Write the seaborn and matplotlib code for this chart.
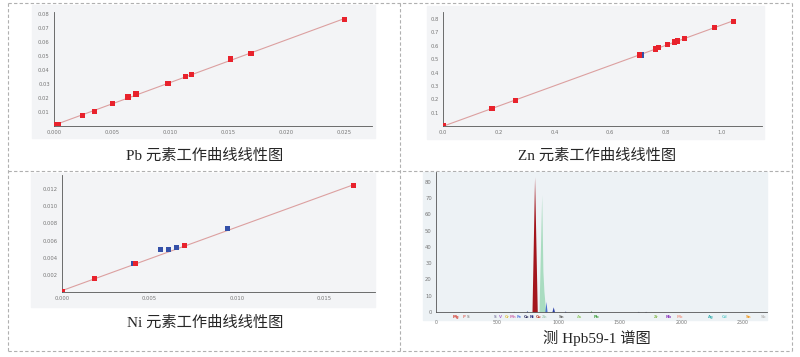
import numpy as np
import pandas as pd
import matplotlib
matplotlib.use("Agg")
import matplotlib.pyplot as plt
import seaborn as sns
from matplotlib.patches import Rectangle
from matplotlib.lines import Line2D
from matplotlib.ticker import MultipleLocator, FormatStrFormatter

sns.set_style("white")
plt.rcParams['font.family'] = ['DejaVu Sans', 'Noto Sans CJK SC']

# ---- datos ----
pb_x = [0.0002, 0.0004, 0.00248, 0.00346, 0.00504, 0.00637, 0.00706, 0.00983, 0.01135, 0.01182, 0.01519, 0.01697, 0.0250]
pb_y = [0.0012, 0.0012, 0.0076, 0.0105, 0.0160, 0.0208, 0.0229, 0.0303, 0.0356, 0.0368, 0.0480, 0.0518, 0.0761]

zn_x = [0.0, 0.176, 0.260, 0.706, 0.762, 0.774, 0.807, 0.832, 0.843, 0.868, 0.974, 1.043]
zn_y = [0.0, 0.130, 0.192, 0.531, 0.576, 0.586, 0.608, 0.628, 0.636, 0.656, 0.738, 0.783]
zn_blue_x = [0.712]
zn_blue_y = [0.531]

ni_red_x = [0.0, 0.00185, 0.00421, 0.00701, 0.01669]
ni_red_y = [0.0, 0.00158, 0.00335, 0.00546, 0.01246]
ni_blue_x = [0.00410, 0.00562, 0.00610, 0.00655, 0.00945]
ni_blue_y = [0.00335, 0.00492, 0.00492, 0.00515, 0.00738]

# picos del espectro: vertices (canal, altura) y color
peak_x = [[783, 804, 826],
          [840, 862, 872, 880, 895],
          [888, 897, 906],
          [945, 956, 967],
          [1045, 1054, 1063],
          [625, 633, 641],
          [733, 742, 751],
          [1255, 1264, 1273],
          [1640, 1650, 1660],
          [1700, 1710, 1720]]
peak_y = [[0, 83, 0],
          [0, 72, 25, 13, 0],
          [0, 6.5, 0],
          [0, 3.2, 0],
          [0, 0.6, 0],
          [0, 0.5, 0],
          [0, 0.8, 0],
          [0, 0.8, 0],
          [0, 0.4, 0],
          [0, 0.4, 0]]
peak_color = ['#a3151c', '#a9dcc0', '#4a6fd0', '#2a40a8', '#2a40a8',
              '#7080b0', '#3050a0', '#4c9a4c', '#404890', '#404890']

elem_names = ['Mg', 'P', 'S', 'S', 'V', 'Cr', 'Mn', 'Fe', 'Co', 'Ni', 'Cu', 'Zn', 'Sn',
              'As', 'Pb', 'Zr', 'Nb', 'Mo', 'Ag', 'Cd', 'Sn', 'Sb']
elem_pos = [160, 225, 262, 480, 530, 580, 630, 680, 735, 785, 835, 885, 1020,
            1170, 1310, 1795, 1895, 1990, 2245, 2350, 2550, 2670]
elem_color = ['#d23a2e', '#e07a70', '#999999', '#8888aa', '#b070d0', '#e0c040', '#d070b0', '#6080e0',
              '#303060', '#303080', '#c04030', '#b0d0c0', '#707070',
              '#a0d080', '#40a040', '#90c060', '#9040c0', '#f0a090', '#40b0b0', '#70d0d0',
              '#f0a030', '#c0c0c0']

titulos = ["Pb 元素工作曲线线性图", "Zn 元素工作曲线线性图", "Ni 元素工作曲线线性图", "测 Hpb59-1 谱图"]

W, H = 800, 357
fig = plt.figure(figsize=(8, 3.57), dpi=100)


def caja(x0, y0, x1, y1):
    return [x0 / W, 1 - y1 / H, (x1 - x0) / W, (y1 - y0) / H]


def fondo(x0, y0, x1, y1, color):
    fig.patches.append(Rectangle((x0 / W, 1 - y1 / H), (x1 - x0) / W, (y1 - y0) / H,
                                 transform=fig.transFigure, color=color, zorder=-5))


def linea(x0, y0, x1, y1):
    fig.lines.append(Line2D([x0 / W, x1 / W], [1 - y0 / H, 1 - y1 / H], transform=fig.transFigure,
                            color='#b0b0b0', lw=0.8, ls=(0, (3, 2)), zorder=-4))


# bordes de la tabla
linea(8, 3, 792, 3)
linea(8, 351, 792, 351)
linea(8, 3, 8, 351)
linea(792, 3, 792, 351)
linea(400, 3, 400, 351)
linea(8, 171, 792, 171)


def estilo(ax, fc):
    ax.set_facecolor(fc)
    for s in ['top', 'right']:
        ax.spines[s].set_visible(False)
    for s in ['left', 'bottom']:
        ax.spines[s].set_color('#555555')
        ax.spines[s].set_linewidth(0.6)
    ax.tick_params(which='major', labelsize=3.8, labelcolor='#777777', colors='#555555',
                   length=2, width=0.5, direction='inout', pad=2)
    ax.tick_params(which='minor', length=1.2, width=0.4, colors='#555555', direction='inout')
    ax.set_xlabel("")
    ax.set_ylabel("")


rojo = '#e8222c'
azul = '#3450a8'
rosa = '#dca0a0'
gris_fondo = '#f3f4f6'

# Pb
fondo(32, 5, 375, 138, gris_fondo)
ax1 = fig.add_axes(caja(54, 12, 372, 126))
df_pb = pd.DataFrame({'x': pb_x, 'y': pb_y})
sns.regplot(data=df_pb, x='x', y='y', scatter=False, ci=None, ax=ax1,
            line_kws={'color': rosa, 'lw': 0.8})
sns.scatterplot(data=df_pb, x='x', y='y', marker='s', s=14, color=rojo, edgecolor='none', ax=ax1, zorder=3)
ax1.set_xlim(0, 0.0274)
ax1.set_ylim(0, 0.0816)
ax1.set_xticks(np.arange(0, 0.0251, 0.005))
ax1.set_yticks(np.arange(0.01, 0.0801, 0.01))
ax1.xaxis.set_major_formatter(FormatStrFormatter('%.3f'))
ax1.yaxis.set_major_formatter(FormatStrFormatter('%.2f'))
ax1.xaxis.set_minor_locator(MultipleLocator(0.001))
ax1.yaxis.set_minor_locator(MultipleLocator(0.002))
estilo(ax1, gris_fondo)

# Zn
fondo(427, 6, 764, 139, gris_fondo)
ax2 = fig.add_axes(caja(443, 12, 762, 126))
df_zn = pd.DataFrame({'x': zn_x, 'y': zn_y})
sns.regplot(data=df_zn, x='x', y='y', scatter=False, ci=None, ax=ax2,
            line_kws={'color': rosa, 'lw': 0.8})
sns.scatterplot(x=zn_blue_x, y=zn_blue_y, marker='s', s=14, color=azul, edgecolor='none', ax=ax2, zorder=3)
sns.scatterplot(data=df_zn, x='x', y='y', marker='s', s=14, color=rojo, edgecolor='none', ax=ax2, zorder=4)
ax2.set_xlim(0, 1.146)
ax2.set_ylim(0, 0.853)
ax2.set_xticks(np.arange(0, 1.01, 0.2))
ax2.set_yticks(np.arange(0.1, 0.81, 0.1))
ax2.xaxis.set_major_formatter(FormatStrFormatter('%.1f'))
ax2.yaxis.set_major_formatter(FormatStrFormatter('%.1f'))
ax2.xaxis.set_minor_locator(MultipleLocator(0.05))
ax2.yaxis.set_minor_locator(MultipleLocator(0.02))
estilo(ax2, gris_fondo)

# Ni
fondo(31, 173, 375, 307, gris_fondo)
ax3 = fig.add_axes(caja(62, 175, 375, 292))
df_ni = pd.DataFrame({'x': ni_red_x, 'y': ni_red_y})
sns.regplot(data=df_ni, x='x', y='y', scatter=False, ci=None, ax=ax3,
            line_kws={'color': rosa, 'lw': 0.8})
sns.scatterplot(x=ni_blue_x, y=ni_blue_y, marker='s', s=14, color=azul, edgecolor='none', ax=ax3, zorder=3)
sns.scatterplot(data=df_ni, x='x', y='y', marker='s', s=14, color=rojo, edgecolor='none', ax=ax3, zorder=4)
ax3.set_xlim(0, 0.0179)
ax3.set_ylim(0, 0.01365)
ax3.set_xticks(np.arange(0, 0.0151, 0.005))
ax3.set_yticks(np.arange(0.002, 0.0121, 0.002))
ax3.xaxis.set_major_formatter(FormatStrFormatter('%.3f'))
ax3.yaxis.set_major_formatter(FormatStrFormatter('%.3f'))
ax3.xaxis.set_minor_locator(MultipleLocator(0.001))
ax3.yaxis.set_minor_locator(MultipleLocator(0.0005))
estilo(ax3, gris_fondo)

# espectro
fondo(423, 172, 767, 320, '#edf2f5')
ax4 = fig.add_axes(caja(436, 172, 767, 312))
for xs, ys, c in zip(peak_x, peak_y, peak_color):
    ax4.fill_between(xs, ys, color=c, lw=0, zorder=2)
ax4.set_xlim(0, 2700)
ax4.set_ylim(0, 86)
ax4.set_xticks(np.arange(0, 2501, 500))
ax4.set_yticks(np.arange(0, 81, 10))
ax4.xaxis.set_minor_locator(MultipleLocator(100))
ax4.yaxis.set_minor_locator(MultipleLocator(2))
estilo(ax4, '#edf2f5')
ax4.tick_params(axis='x', which='major', pad=5, labelsize=3.4)
for nombre, pos, c in zip(elem_names, elem_pos, elem_color):
    ax4.text(pos, -0.018, nombre, color=c, fontsize=2.8, ha='center', va='top',
             transform=ax4.get_xaxis_transform(), fontweight='bold')

# titulos
fam = ['Liberation Serif', 'Noto Sans CJK SC']
fig.text(205 / W, 1 - 156 / H, titulos[0], ha='center', va='center', fontsize=11, family=fam)
fig.text(597 / W, 1 - 156 / H, titulos[1], ha='center', va='center', fontsize=11, family=fam)
fig.text(205 / W, 1 - 323 / H, titulos[2], ha='center', va='center', fontsize=11, family=fam)
fig.text(597 / W, 1 - 338 / H, titulos[3], ha='center', va='center', fontsize=11, family=fam)

fig.savefig("out.png", dpi=100, facecolor='white')
